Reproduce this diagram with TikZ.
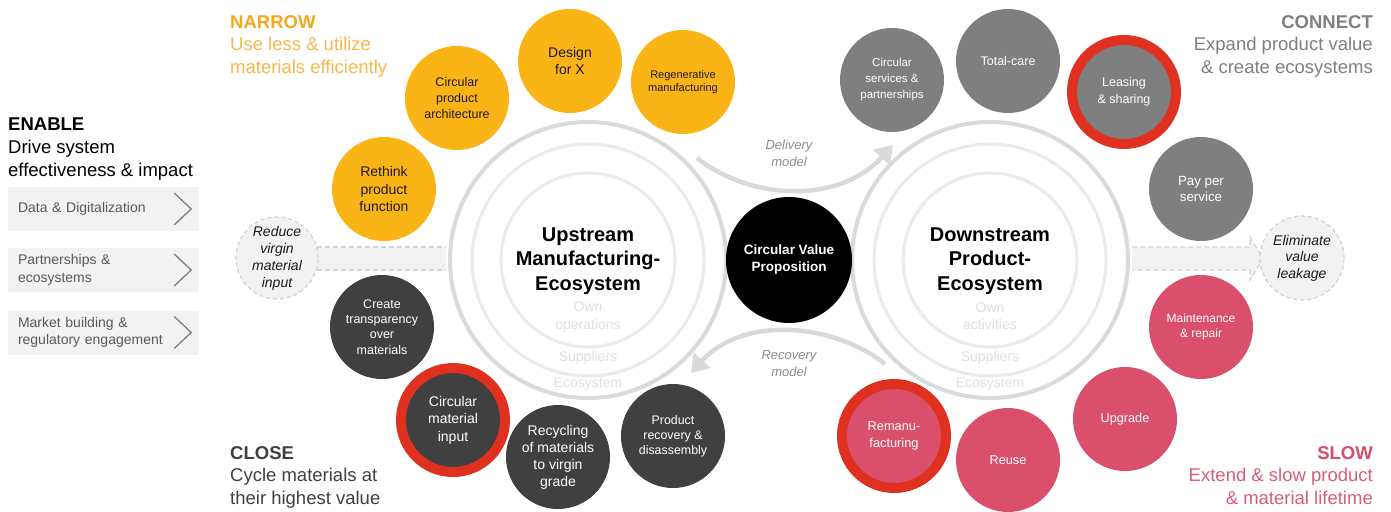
\documentclass[tikz,border=0pt]{standalone}
\usepackage{fontspec}
\setmainfont{Liberation Sans}
\usetikzlibrary{arrows.meta}
\definecolor{ylw}{HTML}{FBB416}
\definecolor{gry}{HTML}{7F7F7F}
\definecolor{dgr}{HTML}{404040}
\definecolor{pnk}{HTML}{DA506C}
\definecolor{redring}{HTML}{DF3020}
\definecolor{ringA}{HTML}{DADADA}
\definecolor{ringB}{HTML}{EBEBEB}
\definecolor{ghost}{HTML}{E0E0E0}
\definecolor{bandc}{HTML}{F2F2F2}
\definecolor{bandline}{HTML}{D2D2D2}
\definecolor{arrc}{HTML}{D9D9D9}
\definecolor{txtgray}{HTML}{595959}
\definecolor{labgray}{HTML}{8C8C8C}
\definecolor{narrowc}{HTML}{F5A81C}
\definecolor{narrowsub}{HTML}{F7B84A}
\definecolor{slowc}{HTML}{D44D69}
\definecolor{slowsub}{HTML}{D85E78}
\definecolor{ink}{HTML}{1A1A1A}
\newcommand\myfs[2]{\fontsize{#1}{#2}\selectfont}
\begin{document}
\begin{tikzpicture}[x=1pt,y=-1pt,
  bub/.style={circle, inner sep=0pt, align=center, text=white},
  ybub/.style={bub, fill=ylw, text=ink, minimum size=104pt},
  gbub/.style={bub, fill=gry, minimum size=104pt},
  dbub/.style={bub, fill=dgr, minimum size=104pt},
  pbub/.style={bub, fill=pnk, minimum size=104pt},
  ringed/.style={draw=redring, line width=10pt},
  dashcirc/.style={bub, fill=bandc, draw=bandline, line width=1.2pt, dash pattern=on 4pt off 3pt, text=ink, font=\itshape\myfs{14}{17}},
  bigring/.style={circle, inner sep=0pt, draw=ringA, line width=4pt, minimum size=276pt},
  midring/.style={circle, inner sep=0pt, draw=ringB, line width=3pt, minimum size=232pt},
  inring/.style={circle, inner sep=0pt, draw=ringB, line width=3pt, minimum size=174pt},
  ghosttxt/.style={text=ghost, font=\myfs{14}{17.5}, align=center},
  titletxt/.style={font=\bfseries\myfs{20}{24.5}, align=center, text=black},
  enbox/.style={fill=bandc, minimum width=191pt, minimum height=44pt, text width=171pt, inner xsep=10pt, align=left, font=\myfs{14}{17.5}, text=txtgray},
  chev/.style={draw=gry, line width=1.3pt},
  flow/.style={draw=arrc, line width=4.5pt, -{Triangle[length=17pt,width=22pt]}},
  flowlab/.style={text=labgray, font=\itshape\myfs{13}{17}, align=center},
  bandedge/.style={draw=bandline, line width=1.2pt, dash pattern=on 5pt off 3pt},
  heading/.style={inner sep=0pt, font=\myfs{18.5}{22.5}}
]
\fill[white] (0,0) rectangle (1391,511);
\useasboundingbox (0,0) rectangle (1391,511);

% bands
\fill[bandc] (277,247) rectangle (446,270);
\draw[bandedge] (277,247) -- (446,247) (277,270) -- (446,270);
\fill[bandc] (1132,247) -- (1250,247) -- (1250,237) -- (1263,258.5) -- (1250,280) -- (1250,270) -- (1132,270) -- cycle;
\draw[bandedge] (1132,247) -- (1250,247) -- (1250,237) -- (1263,258.5) -- (1250,280) -- (1250,270) -- (1132,270);

% big rings
\node[bigring] (up) at (588,260) {};
\node[midring] (upmid) at (588,260) {};
\node[inring] (upin) at (588,260) {};
\node[bigring] (down) at (990,260) {};
\node[midring] (downmid) at (990,260) {};
\node[inring] (downin) at (990,260) {};

\node[titletxt] (uptitle) at (588,261) {Upstream\\Manufacturing-\\Ecosystem};
\node[ghosttxt] (upown) at (588,317) {Own\\operations};
\node[ghosttxt] (upsup) at (588,358) {Suppliers};
\node[ghosttxt] (upeco) at (588,384) {Ecosystem};
\node[titletxt] (downtitle) at (990,261) {Downstream\\Product-\\Ecosystem};
\node[ghosttxt] (downown) at (990,316) {Own\\activities};
\node[ghosttxt] (downsup) at (990,358) {Suppliers};
\node[ghosttxt] (downeco) at (990,384) {Ecosystem};

% center
\node[bub, fill=black, minimum size=126pt, font=\bfseries\myfs{13.5}{17}] (cvp) at (789,260) {Circular Value\\Proposition};

% delivery / recovery arrows
\coordinate (dA) at (697,158);
\coordinate (dB) at (893,145);
\coordinate (rA) at (885,364);
\coordinate (rB) at (691,373);
\draw[flow] (dA) .. controls (750,200) and (838,205) .. (dB);
\draw[flow] (rA) .. controls (832,322) and (742,316) .. (rB);
\node[flowlab] (dlab) at (789,153) {Delivery\\model};
\node[flowlab] (rlab) at (789,364) {Recovery\\model};

% NARROW (yellow)
\node[ybub, font=\myfs{14}{17.5}] (rethink) at (384,189) {Rethink\\product\\function};
\node[ybub, font=\myfs{12.5}{16}] (arch) at (457,98) {Circular\\product\\architecture};
\node[ybub, font=\myfs{14}{17}] (dfx) at (570,61) {Design\\for X};
\node[ybub, font=\myfs{11}{13.5}] (regen) at (683,82) {Regenerative\\manufacturing};

% CONNECT (gray)
\node[gbub, font=\myfs{11.5}{16}] (circserv) at (892,80) {Circular\\services \&\\partnerships};
\node[gbub, font=\myfs{12.5}{16}] (total) at (1008,61) {Total-care};
\node[gbub, ringed, font=\myfs{12.5}{16.5}] (lease) at (1124,92) {Leasing\\\& sharing};
\node[gbub, font=\myfs{13.3}{16.5}] (pay) at (1201,189) {Pay per\\service};

% SLOW (pink)
\node[pbub, font=\myfs{12}{15}] (maint) at (1201,327) {Maintenance\\\& repair};
\node[pbub, font=\myfs{12.7}{16}] (upg) at (1125,419) {Upgrade};
\node[pbub, font=\myfs{12.7}{16}] (reuse) at (1008,460) {Reuse};
\node[pbub, ringed, font=\myfs{12.8}{17}] (reman) at (894,436) {Remanu-\\facturing};

% CLOSE (dark)
\node[dbub, font=\myfs{12.5}{15.3}] (transp) at (382,327) {Create\\transparency\\over\\materials};
\node[dbub, ringed, font=\myfs{14}{17.5}] (cmi) at (453,420) {Circular\\material\\input};
\node[dbub, font=\myfs{14}{17}] (recyc) at (558,457) {Recycling\\of materials\\to virgin\\grade};
\node[dbub, font=\myfs{12.4}{15}] (recov) at (673,436) {Product\\recovery \&\\disassembly};

% side circles
\node[dashcirc, minimum size=82pt] (reduce) at (277,258) {Reduce\\virgin\\material\\input};
\node[dashcirc, minimum size=84pt, font=\itshape\myfs{14}{16.5}] (elim) at (1302,258) {Eliminate\\value\\leakage};

% headings
\node[heading, anchor=north west, align=left, text=black] (enable) at (8,118) {\textbf{ENABLE}\\[0.5pt]Drive system\\[0.5pt]effectiveness \& impact};
\node[heading, anchor=north west, align=left, text=narrowsub] (narrow) at (230,15) {\textcolor{narrowc}{\textbf{NARROW}}\\Use less \& utilize\\materials efficiently};
\node[heading, anchor=north east, align=right, text=gry] (connect) at (1373,15) {\textbf{CONNECT}\\Expand product value\\\& create ecosystems};
\node[heading, anchor=north west, align=left, text=dgr] (close) at (230,446) {\textbf{CLOSE}\\Cycle materials at\\their highest value};
\node[heading, anchor=north east, align=right, text=slowsub] (slow) at (1373,446) {\textcolor{slowc}{\textbf{SLOW}}\\Extend \& slow product\\\& material lifetime};

% enable boxes
\node[enbox] (e1) at (103.5,209) {Data \& Digitalization};
\node[enbox] (e2) at (103.5,270) {Partnerships \&\\ecosystems};
\node[enbox] (e3) at (103.5,332.5) {Market building \&\\regulatory engagement};
\foreach \b in {e1,e2,e3}{
  \draw[chev] ([xshift=-25pt,yshift=16pt]\b.east) -- ([xshift=-8pt]\b.east) -- ([xshift=-25pt,yshift=-16pt]\b.east);
}
\end{tikzpicture}
\end{document}
